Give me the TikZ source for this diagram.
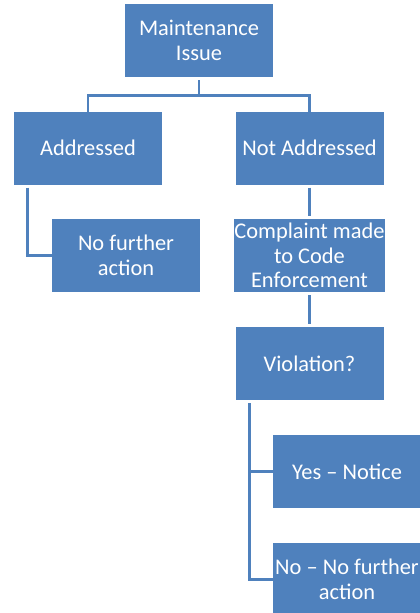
\documentclass[tikz,border=0pt]{standalone}
\usepackage{fontspec}
\setmainfont{Carlito}
\usepackage{tikz}
\definecolor{boxblue}{HTML}{4F81BD}
\tikzstyle{issue}=[rectangle,
fill=boxblue,
text=white,
minimum width=148pt,
minimum height=73pt,
inner sep=0pt,
align=center,
font=\fontsize{22.4}{24.5}\selectfont]
\tikzstyle{link}=[draw=boxblue,
line width=2.8pt,
shorten <=3pt]

\begin{document}
\begin{tikzpicture}[x=1pt,y=-1pt]
		% The page is the picture frame; the right boxes run off its edge.
		\path[use as bounding box,clip] (0,0) rectangle (420,613);
		
		% First level: the issue and its two outcomes
		\node (issue_top)     [issue] at (199,40.5)   {Maintenance\\Issue};
		\node (addressed)     [issue] at (88,148)     {Addressed};
		\node (not_addressed) [issue] at (309.5,148)  {Not Addressed};
		
		% Second level
		\node (no_action)     [issue] at (126,255.5)  {No further\\action};
		\node (complaint)     [issue] at (309.5,255.5) {Complaint made\\to Code\\Enforcement};
		\node (violation)     [issue] at (309.5,363.5) {Violation?};
		
		% Outcomes of the violation check
		\node (yes_notice)    [issue] at (347,471.5)  {Yes -- Notice};
		\node (no_notice)     [issue] at (347,579.5)  {No -- No further\\action};
		
		% The connectors are elbow lines between the boxes:
		\draw[link] (issue_top.south) -- ++(0,18) coordinate (split);
		\draw[link,shorten <=0pt] (split) -| ([yshift=-3pt]addressed.north);
		\draw[link,shorten <=0pt] (split) -| ([yshift=-3pt]not_addressed.north);
		
		\draw[link] ([xshift=14pt]addressed.south west) |- (no_action.west);
		\draw[link,shorten >=3pt] (not_addressed.south) -- (complaint.north);
		\draw[link,shorten >=3pt] (complaint.south) -- (violation.north);
		
		\draw[link] ([xshift=14pt]violation.south west) |- (yes_notice.west);
		\draw[link] ([xshift=14pt]violation.south west) |- (no_notice.west);
		\end{tikzpicture}
\end{document}
